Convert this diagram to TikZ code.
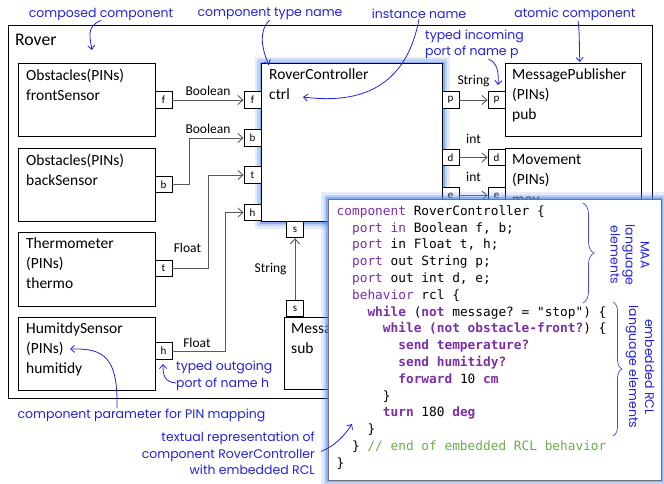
\documentclass[tikz,border=0pt]{standalone}
\usepackage{fontspec}
\setmainfont{Carlito}
\setmonofont{DejaVu Sans Mono}
\newfontfamily\notefont{Poppins}
\usetikzlibrary{positioning,arrows.meta,decorations.pathreplacing}

\definecolor{notecolor}{HTML}{2323DC}
\definecolor{bracecolor}{HTML}{4A4AE0}
\definecolor{kwpurple}{HTML}{7A2FA8}
\definecolor{cmtgreen}{HTML}{6AAF4A}
\definecolor{glowblue}{HTML}{4A86EE}

\newcommand{\kwd}[1]{\textcolor{kwpurple}{#1}}
\newcommand{\rclkw}[1]{\textcolor{kwpurple}{\bfseries #1}}
\newcommand{\cmt}[1]{\textcolor{cmtgreen}{#1}}
\newcommand{\indentby}[1]{\hspace*{#1\fontcharwd\font`x}}

\begin{document}
\begin{tikzpicture}[x=1pt,y=-1pt,
    % define styles
    comp/.style={
        draw,
        fill=white,
        line width=1pt,
        anchor=north west,
        inner sep=0pt
    },
    comptext/.style={
        anchor=north west,
        align=left,
        inner sep=0pt,
        font={\fontsize{15.5}{20}\selectfont},
        execute at begin node=\strut
    },
    port/.style={
        draw,
        fill=white,
        line width=0.8pt,
        minimum width=17pt,
        minimum height=16.5pt,
        inner sep=0pt,
        font={\fontsize{11}{11}\selectfont}
    },
    conn/.style={
        draw=black!65,
        line width=0.9pt,
        -{Straight Barb[length=5pt,width=9pt]}
    },
    lbl/.style={
        font={\fontsize{13.5}{13.5}\selectfont},
        inner sep=1pt
    },
    glow/.style={
        preaction={draw=glowblue, draw opacity=0.15, line width=14pt},
        preaction={draw=glowblue, draw opacity=0.25, line width=9pt},
        preaction={draw=glowblue, draw opacity=0.45, line width=4pt}
    },
    codetext/.style={
        anchor=north west,
        align=left,
        inner sep=0pt,
        font={\ttfamily\fontsize{12.8}{16.8}\selectfont},
        execute at begin node=\strut
    },
    note/.style={
        text=notecolor,
        inner sep=0pt,
        font={\notefont\fontsize{12.5}{16.5}\selectfont}
    },
    notearrow/.style={
        draw=notecolor,
        line width=0.8pt,
        -{Straight Barb[length=4pt,width=7pt]}
    },
    bracedeco/.style={
        draw=bracecolor,
        line width=0.7pt,
        decorate,
        decoration={brace, amplitude=#1}
    },
    bracedeco/.default=10pt
]
\useasboundingbox (0,0) rectangle (664,483);

% composed component
\node[comp, minimum width=644pt, minimum height=373pt] (rover) at (8,25) {};
\node[anchor=west, inner sep=0pt, font={\fontsize{17.7}{20}\selectfont}] (rover-name) at (15,40) {Rover};

% sensors on the left
\node[comp, minimum width=137pt, minimum height=73pt] (front) at (18,63) {};
\node[comptext, below right=6pt and 8pt of front.north west] (front-txt) {Obstacles(PINs)\\frontSensor};
\node[comp, minimum width=137pt, minimum height=73pt] (back) at (18,148) {};
\node[comptext, below right=6pt and 8pt of back.north west] (back-txt) {Obstacles(PINs)\\backSensor};
\node[comp, minimum width=137pt, minimum height=74pt] (thermo) at (18,232) {};
\node[comptext, below right=6pt and 8pt of thermo.north west] (thermo-txt) {Thermometer\\(PINs)\\thermo};
\node[comp, minimum width=137pt, minimum height=73pt] (humid) at (18,317) {};
\node[comptext, below right=6pt and 8pt of humid.north west] (humid-txt) {HumitdySensor\\(PINs)\\humitidy};

% controller
\node[comp, glow, minimum width=181pt, minimum height=158pt] (ctrl) at (261,63) {};
\node[comptext, below right=6pt and 8pt of ctrl.north west] (ctrl-txt) {RoverController\\ctrl};

% actuators on the right
\node[comp, minimum width=136pt, minimum height=73pt] (pub) at (505,63) {};
\node[comptext, below right=6pt and 7pt of pub.north west] (pub-txt) {MessagePublisher\\(PINs)\\pub};
\node[comp, minimum width=136pt, minimum height=73pt] (mov) at (505,148) {};
\node[comptext, below right=6pt and 7pt of mov.north west] (mov-txt) {Movement\\(PINs)\\mov};
\node[comp, minimum width=140pt, minimum height=72pt] (sub) at (284,317) {};
\node[comptext, below right=6pt and 7pt of sub.north west] (sub-txt) {MessageSubscriber\\sub};

% ports
\node[port] (front-f) at (163.5,100) {f};
\node[port] (back-b) at (163.5,184.5) {b};
\node[port] (thermo-t) at (163.5,268.5) {t};
\node[port] (humid-h) at (163.5,351) {h};
\node[port] (ctrl-f) at (252.5,100) {f};
\node[port] (ctrl-b) at (252.5,138) {b};
\node[port] (ctrl-t) at (252.5,175) {t};
\node[port] (ctrl-h) at (252.5,212.5) {h};
\node[port] (ctrl-s) at (295,229.5) {s};
\node[port] (ctrl-p) at (450.5,100) {p};
\node[port] (ctrl-d) at (450.5,157.5) {d};
\node[port] (ctrl-e) at (450.5,195.5) {e};
\node[port] (pub-p) at (496.5,100) {p};
\node[port] (mov-d) at (496.5,157.5) {d};
\node[port] (mov-e) at (496.5,195.5) {e};
\node[port] (sub-s) at (295,308.5) {s};

% typed connectors
\draw[conn] (front-f) -- node[lbl, above=3pt] {Boolean} (ctrl-f);
\draw[conn] (back-b.east) -- ++(17,0) |- node[lbl, pos=0.75, above=3pt, xshift=-8.5pt] {Boolean} (ctrl-b);
\draw[conn] (thermo-t.east) -- node[lbl, above=14pt, xshift=-3pt] {Float} ++(36,0) |- (ctrl-t);
\draw[conn] (humid-h.east) -- node[lbl, above=2pt, xshift=-2pt] {Float} ++(53,0) |- (ctrl-h);
\draw[conn] (ctrl-p) -- node[lbl, above=12pt] {String} (pub-p);
\draw[conn] (ctrl-d) -- node[lbl, above=12pt] {int} (mov-d);
\draw[conn] (ctrl-e) -- node[lbl, above=12pt] {int} (mov-e);
\draw[conn] (sub-s) -- node[lbl, left=7pt] {String} (ctrl-s);

% textual representation
\node[comp, glow, draw=black!55, line width=0.8pt, minimum width=333pt, minimum height=281pt] (code) at (328,199) {};
\node[codetext, below right=6.2pt and 8.5pt of code.north west] (code-txt) {%
\kwd{component} RoverController \{\\
\indentby{2}\kwd{port in} Boolean f, b;\\
\indentby{2}\kwd{port} in Float t, h;\\
\indentby{2}\kwd{port} out String p;\\
\indentby{2}\kwd{port} out int d, e;\\
\indentby{2}\kwd{behavior} rcl \{\\
\indentby{4}\rclkw{while} (\rclkw{not} message? = "stop") \{\\
\indentby{6}\rclkw{while (not obstacle-front?}) \{\\
\indentby{8}\rclkw{send temperature?}\\
\indentby{8}\rclkw{send humitidy?}\\
\indentby{8}\rclkw{forward} 10 \rclkw{cm}\\
\indentby{6}\}\\
\indentby{6}\rclkw{turn} 180 \rclkw{deg}\\
\indentby{4}\}\\
\indentby{2}\} \cmt{// end of embedded RCL behavior}\\
\}};

% braces with language notes
\draw[bracedeco=11pt] (583,203) -- (583,303);
\draw[bracedeco=9pt] (613,302) -- (613,436);
\node[note, rotate=-90, align=center, font={\notefont\fontsize{12.5}{15}\selectfont}] (maa-note) at (630,255) {MAA\\language\\elements};
\node[note, rotate=-90, align=center, font={\notefont\fontsize{12.5}{16}\selectfont}] (rcl-note) at (640,367) {embedded RCL\\language elements};

% annotations
\node[note] (comp-note) at (101,14) {composed component};
\node[note] (type-note) at (270,14) {component type name};
\node[note] (inst-note) at (419,14) {instance name};
\node[note] (atom-note) at (575,14) {atomic component};
\node[note, anchor=west, align=left] (inport-note) at (425,44.5) {typed incoming\\port of name p};
\node[note, anchor=west, align=left] (outport-note) at (176,376) {typed outgoing\\port of name h};
\node[note] (pin-note) at (141.5,415) {component parameter for PIN mapping};
\node[note, anchor=east, align=right] (text-note) at (315,453.5) {textual representation of\\component RoverController\\with embedded RCL};

\coordinate (rover-spot) at (92,50);
\coordinate (ctrl-type) at (269,65);
\coordinate (ctrl-inst) at (303,97);
\coordinate (pub-spot) at (580,62);
\coordinate (pub-p-spot) at (498,85);
\coordinate (humid-h-spot) at (163,364);
\coordinate (humid-pin) at (70,349);
\coordinate (code-spot) at (352,424);

\draw[notearrow] (comp-note.south) .. controls (86,26) and (90,38) .. (rover-spot);
\draw[notearrow] (type-note.south) .. controls (258,30) and (262,50) .. (ctrl-type);
\draw[notearrow] (inst-note.south) .. controls (405,95) and (350,103) .. (ctrl-inst);
\draw[notearrow] ([xshift=3pt]atom-note.south) .. controls (580,35) and (579,50) .. (pub-spot);
\draw[notearrow] ([xshift=14pt]inport-note.south) .. controls (497,62) and (499,72) .. (pub-p-spot);
\draw[notearrow] ([yshift=-7pt]outport-note.west) .. controls (164,382) and (163,375) .. (humid-h-spot);
\draw[notearrow] ([xshift=-24.5pt]pin-note.north) .. controls (118,358) and (105,348) .. (humid-pin);
\draw[notearrow] ([xshift=6pt,yshift=2pt]text-note.east) .. controls (335,446) and (345,435) .. (code-spot);
\end{tikzpicture}
\end{document}
